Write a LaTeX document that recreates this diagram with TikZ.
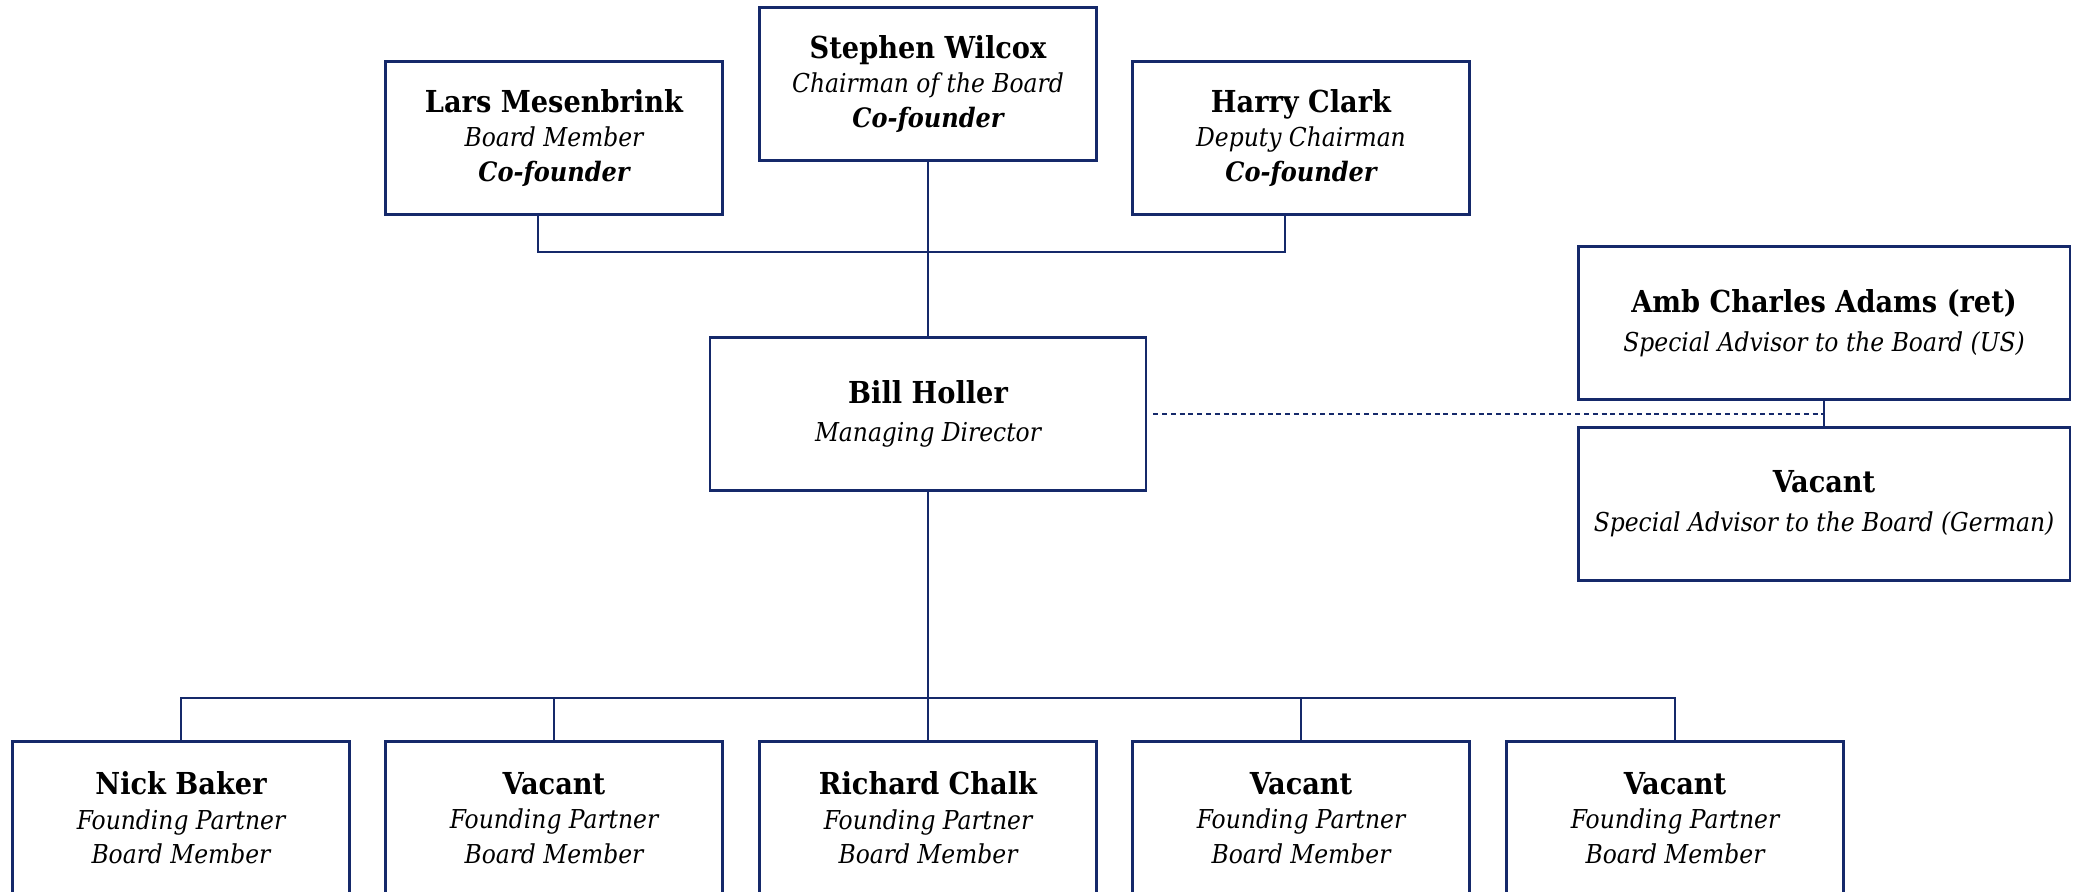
\documentclass[tikz,border=0pt]{standalone}
\usepackage{fontspec}
\setmainfont{DejaVu Serif Condensed}
\definecolor{navy}{HTML}{15296A}
\newcommand{\who}[1]{{\fontsize{8.6}{9.8}\selectfont\bfseries #1}}
\newcommand{\role}[1]{{\fontsize{7.4}{9.8}\selectfont\itshape #1}}
\newcommand{\founder}{{\fontsize{7.6}{9.8}\selectfont\bfseries\itshape Co-founder}}

\begin{document}
\begin{tikzpicture}[
    x=0.01cm, y=-0.01cm,
    every node/.style={align=center, font=\fontsize{8.3}{9.8}\selectfont},
    box/.style={rectangle, draw=navy, line width=0.65pt, fill=white, minimum height=1.53cm, minimum width=3.37cm, inner sep=0pt},
    wideBox/.style={box, minimum width=4.36cm},
    advisorBox/.style={box, minimum width=4.91cm},
    link/.style={draw=navy, line width=0.35pt}
]
\useasboundingbox (0,0) rectangle (2080,892);

% Nodes
\node[box] (sw) at (928, 84) {\who{Stephen Wilcox}\\\role{Chairman of the Board}\\\founder};
\node[box] (lm) at (554, 138) {\who{Lars Mesenbrink}\\\role{Board Member}\\\founder};
\node[box] (hc) at (1301, 138) {\who{Harry Clark}\\\role{Deputy Chairman}\\\founder};
\node[wideBox] (bh) at (928, 414) {\who{Bill Holler}\\[1.2pt]\role{Managing Director}};
\node[advisorBox] (ca) at (1824, 323) {\who{Amb Charles Adams (ret)}\\[1.2pt]\role{Special Advisor to the Board (US)}};
\node[advisorBox] (vg) at (1824, 504) {\who{Vacant}\\[1.2pt]\role{Special Advisor to the Board (German)}};
\node[box] (nb) at (181, 818) {\who{Nick Baker}\\\role{Founding Partner}\\\role{Board Member}};
\node[box] (fp1) at (554, 818) {\who{Vacant}\\\role{Founding Partner}\\\role{Board Member}};
\node[box] (rc) at (928, 818) {\who{Richard Chalk}\\\role{Founding Partner}\\\role{Board Member}};
\node[box] (fp2) at (1301, 818) {\who{Vacant}\\\role{Founding Partner}\\\role{Board Member}};
\node[box] (fp3) at (1675, 818) {\who{Vacant}\\\role{Founding Partner}\\\role{Board Member}};
\coordinate (topbar) at (928, 252);
\coordinate (botbar) at (928, 698);

% Lines
\draw[link] ([xshift=-0.16cm]lm.south) |- (topbar) -| ([xshift=-0.16cm]hc.south);
\draw[link] (sw.south) -- (bh.north);
\draw[link] (bh.south) -- (botbar);
\foreach \n in {nb, fp1, rc, fp2, fp3}
    \draw[link] (botbar) -| (\n.north);
\draw[link] (ca.south) -- (vg.north);
\draw[link, dash pattern=on 1.4pt off 1.1pt] ([xshift=0.06cm]bh.east) -- (ca.south |- bh.east);

\end{tikzpicture}
\end{document}
